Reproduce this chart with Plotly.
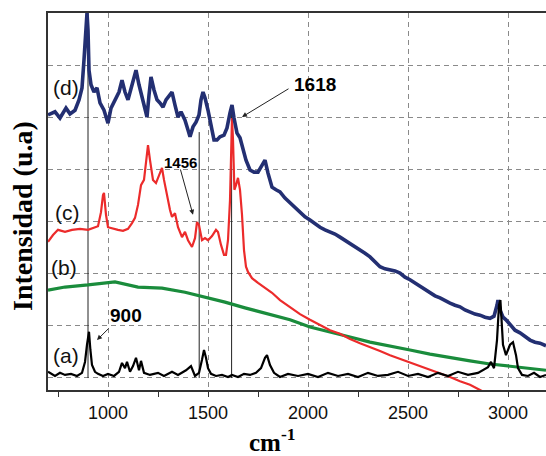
import plotly.graph_objects as go

# ---------------- data ----------------
# x: Raman shift in cm-1, y: intensity (arbitrary units, offset spectra)
wn_d = [700, 735, 760, 790, 810, 835, 855, 870, 880, 890, 895, 900, 905, 915, 930, 945, 960, 980,
        1000, 1015, 1035, 1055, 1070, 1085, 1100, 1120, 1140, 1155, 1170, 1185, 1195, 1205, 1215,
        1230, 1245, 1260, 1275, 1290, 1305, 1320, 1335, 1350, 1365, 1385, 1400, 1410, 1425, 1440,
        1455, 1465, 1475, 1485, 1500, 1515, 1530, 1545, 1560, 1580, 1595, 1610, 1620, 1630, 1645,
        1660, 1675, 1690, 1710, 1730, 1750, 1770, 1785, 1800, 1820, 1840, 1860, 1885, 1910, 1935,
        1960, 1985, 2010, 2035, 2060, 2085, 2110, 2135, 2160, 2185, 2210, 2235, 2260, 2285, 2310,
        2335, 2360, 2385, 2410, 2435, 2460, 2485, 2510, 2535, 2560, 2585, 2610, 2635, 2660, 2685,
        2710, 2735, 2760, 2785, 2810, 2835, 2860, 2885, 2910, 2930, 2945, 2950, 2960, 2975, 2990,
        3010, 3035, 3060, 3085, 3110, 3135, 3160, 3190]
int_d = [5.04, 5.10, 4.98, 5.17, 5.06, 5.13, 5.33, 5.56, 6.10, 6.87, 7.00, 6.67, 5.90, 5.62, 5.48,
         5.56, 5.27, 5.13, 4.88, 5.17, 5.33, 5.48, 5.71, 5.48, 5.33, 5.62, 5.90, 5.62, 5.38, 5.17,
         5.00, 5.42, 5.77, 5.52, 5.33, 5.27, 5.19, 5.33, 5.40, 5.48, 5.23, 5.00, 5.10, 4.94, 4.75,
         4.62, 4.81, 4.90, 5.04, 5.33, 5.48, 5.37, 5.13, 4.85, 4.56, 4.56, 4.62, 4.65, 4.79, 5.08,
         5.23, 4.98, 4.69, 4.60, 4.37, 4.17, 3.98, 3.94, 3.94, 4.08, 4.17, 3.92, 3.65, 3.60, 3.56,
         3.44, 3.35, 3.25, 3.15, 3.08, 3.02, 2.94, 2.88, 2.83, 2.79, 2.75, 2.69, 2.63, 2.58, 2.50,
         2.44, 2.38, 2.31, 2.21, 2.12, 2.08, 2.06, 2.04, 2.00, 1.92, 1.87, 1.81, 1.73, 1.67, 1.62,
         1.56, 1.52, 1.46, 1.42, 1.38, 1.35, 1.29, 1.25, 1.21, 1.19, 1.15, 1.13, 1.17, 1.38, 1.48,
         1.29, 1.15, 1.10, 1.00, 0.90, 0.85, 0.77, 0.71, 0.67, 0.65, 0.60]

wn_c = [700, 725, 750, 785, 820, 860, 900, 930, 950, 965, 975, 980, 990, 1000, 1025, 1050, 1075,
        1100, 1120, 1135, 1150, 1165, 1180, 1190, 1200, 1210, 1225, 1240, 1255, 1270, 1280, 1295,
        1310, 1320, 1335, 1350, 1370, 1385, 1400, 1420, 1435, 1445, 1455, 1470, 1485, 1500, 1520,
        1540, 1550, 1565, 1580, 1590, 1600, 1610, 1615, 1620, 1625, 1632, 1640, 1650, 1660, 1670,
        1680, 1690, 1700, 1720, 1750, 1785, 1820, 1860, 1910, 1960, 2010, 2060, 2110, 2160, 2210,
        2260, 2310, 2360, 2410, 2460, 2510, 2560, 2610, 2660, 2710, 2760, 2810, 2860, 2910]
int_c = [2.60, 2.73, 2.83, 2.79, 2.83, 2.85, 2.83, 2.87, 2.90, 3.17, 3.50, 3.54, 3.12, 2.88, 2.85,
         2.83, 2.81, 2.85, 2.96, 3.06, 3.31, 3.69, 3.79, 4.17, 4.46, 4.17, 3.79, 3.73, 3.88, 4.02,
         3.79, 3.46, 3.21, 3.08, 3.15, 2.88, 2.69, 2.79, 2.63, 2.50, 2.67, 2.98, 2.92, 2.63, 2.67,
         2.63, 2.71, 2.83, 2.79, 2.54, 2.35, 2.35, 2.63, 3.40, 4.37, 4.98, 4.56, 3.60, 3.69, 3.83,
         3.60, 3.12, 2.44, 2.12, 2.02, 1.90, 1.81, 1.71, 1.62, 1.48, 1.35, 1.21, 1.10, 1.00, 0.90,
         0.83, 0.73, 0.65, 0.58, 0.50, 0.42, 0.35, 0.29, 0.21, 0.15, 0.08, 0.00, -0.08, -0.15,
         -0.25, -0.35]

wn_b = [700, 785, 900, 1035, 1150, 1270, 1385, 1485, 1585, 1685, 1820, 1910, 2010, 2110, 2210,
        2310, 2410, 2510, 2610, 2710, 2810, 2910, 3010, 3110, 3190]
int_b = [1.67, 1.73, 1.77, 1.83, 1.73, 1.71, 1.63, 1.54, 1.44, 1.33, 1.19, 1.10, 0.96, 0.87, 0.77,
         0.67, 0.60, 0.52, 0.44, 0.37, 0.31, 0.25, 0.21, 0.17, 0.13]

wn_a = [700, 735, 760, 785, 815, 845, 870, 885, 895, 905, 912, 920, 935, 950, 975, 1000, 1030,
        1055, 1070, 1085, 1095, 1110, 1125, 1140, 1155, 1165, 1180, 1210, 1250, 1280, 1320, 1350,
        1390, 1415, 1435, 1455, 1470, 1480, 1490, 1500, 1515, 1540, 1570, 1600, 1620, 1650, 1680,
        1710, 1740, 1765, 1785, 1795, 1810, 1830, 1860, 1900, 1950, 2000, 2050, 2100, 2150, 2200,
        2250, 2300, 2350, 2400, 2450, 2500, 2550, 2600, 2650, 2700, 2750, 2800, 2850, 2900, 2915,
        2930, 2945, 2955, 2962, 2975, 2990, 3010, 3025, 3040, 3050, 3070, 3100, 3130, 3160, 3190]
int_a = [0.10, 0.02, 0.08, 0.04, 0.06, 0.02, 0.08, 0.29, 0.62, 0.87, 0.52, 0.23, 0.10, 0.06, 0.02,
         0.06, 0.02, 0.10, 0.27, 0.17, 0.29, 0.10, 0.21, 0.37, 0.13, 0.31, 0.08, 0.04, 0.08, 0.02,
         0.10, 0.04, 0.13, 0.21, 0.02, 0.08, 0.33, 0.52, 0.37, 0.17, 0.06, 0.02, 0.04, 0.00, 0.04,
         0.00, 0.06, 0.04, 0.08, 0.17, 0.37, 0.42, 0.23, 0.08, 0.00, 0.06, 0.02, 0.06, 0.00, 0.08,
         0.02, 0.06, 0.00, 0.08, 0.02, 0.04, 0.10, 0.02, 0.06, 0.00, 0.08, 0.02, 0.10, 0.04, 0.08,
         0.19, 0.29, 0.17, 0.71, 1.38, 1.48, 0.62, 0.42, 0.62, 0.67, 0.42, 0.17, 0.04, 0.02, 0.08,
         0.00, 0.04]

series_labels = ["(a)", "(b)", "(c)", "(d)"]
label_pos_x = [790, 780, 795, 790]
label_pos_y = [0.42, 2.10, 3.17, 5.56]

# marker lines: wavenumber, bottom, top
mark_wn = [900, 1456, 1618]
mark_bottom = [-0.02, -0.02, -0.02]
mark_top = [7.0, 4.71, 5.08]

peak_text = ["900", "1456", "1618"]
peak_text_x = [1090, 1360, 2035]
peak_text_y = [1.19, 4.13, 5.63]
peak_text_size = [19, 15, 19]
arrow_tail_x = [1010, 1360, 1910]
arrow_tail_y = [0.96, 4.02, 5.56]
arrow_head_x = [945, 1425, 1670]
arrow_head_y = [0.71, 3.12, 5.00]

x_ticks = [1000, 1500, 2000, 2500, 3000]

# ---------------- figure ----------------
W, H = 546, 456
ml, mr, mt, mb = 48, 0, 13, 66
pw, ph = W - ml - mr, H - mt - mb

fig = go.Figure()

for xw, yb, yt in zip(mark_wn, mark_bottom, mark_top):
    fig.add_trace(go.Scatter(x=[xw, xw], y=[yb, yt], mode="lines",
                             line=dict(color="#222222", width=1), hoverinfo="skip",
                             showlegend=False))

fig.add_trace(go.Scatter(x=wn_b, y=int_b, mode="lines", line=dict(color="#1a8c3c", width=3.2),
                         showlegend=False))
fig.add_trace(go.Scatter(x=wn_c, y=int_c, mode="lines", line=dict(color="#ec2b2b", width=2.2),
                         showlegend=False))
fig.add_trace(go.Scatter(x=wn_d, y=int_d, mode="lines", line=dict(color="#232f72", width=3.6),
                         showlegend=False))
fig.add_trace(go.Scatter(x=wn_a, y=int_a, mode="lines", line=dict(color="#000000", width=2.2),
                         showlegend=False))

annotations = []
for t, xx, yy in zip(series_labels, label_pos_x, label_pos_y):
    annotations.append(dict(x=xx, y=yy, xref="x", yref="y", text=t, showarrow=False,
                            xanchor="center", yanchor="middle",
                            font=dict(family="Arial, Liberation Sans", size=21, color="#111111")))
for t, xx, yy, s in zip(peak_text, peak_text_x, peak_text_y, peak_text_size):
    annotations.append(dict(x=xx, y=yy, xref="x", yref="y", text="<b>%s</b>" % t, showarrow=False,
                            xanchor="center", yanchor="middle",
                            font=dict(family="Arial, Liberation Sans", size=s, color="#000000")))
for tx, ty, hx, hy in zip(arrow_tail_x, arrow_tail_y, arrow_head_x, arrow_head_y):
    annotations.append(dict(x=hx, y=hy, ax=tx, ay=ty, xref="x", yref="y", axref="x", ayref="y",
                            text="", showarrow=True, arrowhead=2, arrowsize=1, arrowwidth=1,
                            arrowcolor="#222222", standoff=0, startstandoff=0))

# axis titles as annotations (pixel centres converted to paper coordinates)
annotations.append(dict(x=(22 - ml) / pw, y=1 - (216 - mt) / ph, xref="paper", yref="paper",
                        text="<b>Intensidad (u.a)</b>", showarrow=False, textangle=-90,
                        xanchor="center", yanchor="middle",
                        font=dict(family="Liberation Serif, Times New Roman, serif", size=28,
                                  color="#000000")))
annotations.append(dict(x=(272 - ml) / pw, y=1 - (440 - mt) / ph, xref="paper", yref="paper",
                        text="<b>cm<sup>-1</sup></b>", showarrow=False,
                        xanchor="center", yanchor="middle",
                        font=dict(family="Liberation Serif, Times New Roman, serif", size=25,
                                  color="#000000")))

fig.update_layout(
    width=W, height=H,
    margin=dict(l=ml, r=mr, t=mt, b=mb, pad=0),
    paper_bgcolor="white", plot_bgcolor="white",
    annotations=annotations,
    showlegend=False,
)
fig.update_xaxes(
    range=[700, 3190], tickvals=x_ticks, ticktext=[str(v) for v in x_ticks],
    ticks="outside", ticklen=5, tickwidth=1.2, tickcolor="#333333",
    minor=dict(dtick=250, tick0=750, ticks="outside", ticklen=5, tickwidth=1.2,
               tickcolor="#333333", showgrid=False),
    showgrid=True, gridcolor="#8a8a8a", gridwidth=1, griddash="5px,4px",
    showline=True, linecolor="#333333", linewidth=2, mirror=True,
    zeroline=False,
    tickfont=dict(family="Arial, Liberation Sans", size=18, color="#111111"),
)
fig.update_yaxes(
    range=[-0.25, 7.0], dtick=1, tick0=0, showticklabels=False, ticks="",
    showgrid=True, gridcolor="#8a8a8a", gridwidth=1, griddash="5px,4px",
    showline=True, linecolor="#333333", linewidth=1.5, mirror=False,
    zeroline=False,
)

fig.write_html("out.html")
